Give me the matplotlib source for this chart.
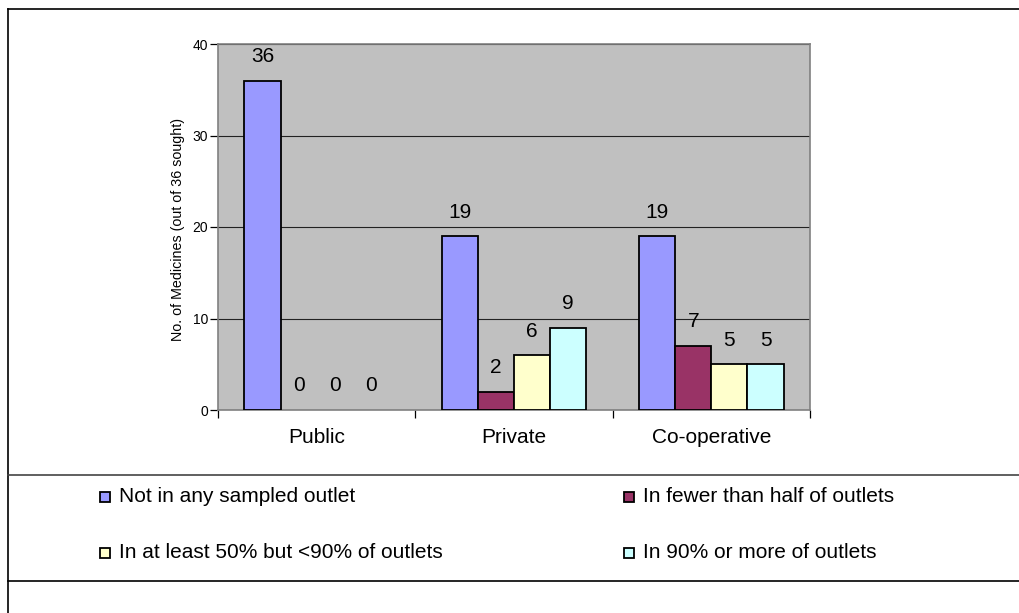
import matplotlib
matplotlib.use("Agg")
import matplotlib.pyplot as plt
from matplotlib.lines import Line2D
from matplotlib.patches import Rectangle
import numpy as np

plt.rcParams['font.family'] = ['Liberation Sans', 'DejaVu Sans']

categories = ["Public", "Private", "Co-operative"]
series_names = [
    "Not in any sampled outlet",
    "In fewer than half of outlets",
    "In at least 50% but <90% of outlets",
    "In 90% or more of outlets",
]
series_values = [
    [36, 19, 19],
    [0, 2, 7],
    [0, 6, 5],
    [0, 9, 5],
]
series_colors = ["#9999FF", "#993366", "#FFFFCC", "#CCFFFF"]
y_ticks = [0, 10, 20, 30, 40]
y_label = "No. of Medicines (out of 36 sought)"

W, H = 1020, 613
fig = plt.figure(figsize=(W / 100, H / 100), dpi=100)
fig.patch.set_facecolor("white")

def fx(px):
    return px / W

def fy(py):
    return 1 - py / H

ax = fig.add_axes([fx(218), fy(410), fx(810) - fx(218), fy(44) - fy(410)])
ax.set_facecolor("#C0C0C0")

x = np.arange(len(categories))
bar_w = 0.183
for i, (vals, col) in enumerate(zip(series_values, series_colors)):
    pos = x + (i - 1.5) * bar_w
    widths = [1.3 if v > 0 else 0 for v in vals]
    bars = ax.bar(pos, vals, width=bar_w, color=col, edgecolor="black",
                  linewidth=widths, zorder=3)
    for b, v in zip(bars, vals):
        ax.annotate(str(v), (b.get_x() + b.get_width() / 2, v),
                    xytext=(0, 17.3), textcoords="offset points",
                    ha="center", va="center", fontsize=15, color="black")

ax.set_xlim(-0.5, len(categories) - 0.5)
ax.set_ylim(0, 40)
ax.set_yticks(y_ticks)
ax.set_yticklabels([str(t) for t in y_ticks], fontsize=10)
ax.yaxis.grid(True, color="#222222", linewidth=0.8, zorder=1)
ax.set_axisbelow(True)

ax.set_xticks(np.arange(-0.5, len(categories), 1.0))
ax.set_xticklabels([])
ax.set_xticks(x, minor=True)
ax.set_xticklabels(categories, minor=True, fontsize=15)
ax.tick_params(axis="x", which="minor", length=0, pad=13)
ax.tick_params(axis="x", which="major", direction="out", length=6, width=0.9,
               color="black")
ax.tick_params(axis="y", direction="out", length=6, width=0.9, pad=1,
               color="black")

for side in ["left", "top", "right", "bottom"]:
    ax.spines[side].set_color("#808080")
    ax.spines[side].set_linewidth(1.2)

fig.text(fx(178), fy(229), y_label, rotation=90, ha="center", va="center",
         fontsize=10.3)

# Legend laid out in two columns below the chart
legend_slots = [(100, 497), (624, 497), (100, 553), (624, 553)]
for (lx, ly), name, col in zip(legend_slots, series_names, series_colors):
    fig.patches.append(Rectangle((fx(lx), fy(ly + 5)), fx(10), 10 / H,
                                 transform=fig.transFigure, facecolor=col,
                                 edgecolor="black", linewidth=1.3))
    fig.text(fx(lx + 19), fy(ly), name, ha="left", va="center",
             fontsize=15)

# Frame lines around the chart and legend areas
frame_lines = [
    ([8, W], [9, 9], "black"),
    ([8, 8], [9, H], "black"),
    ([8, W], [475, 475], "#444444"),
    ([8, W], [581, 581], "black"),
]
for xs, ys, c in frame_lines:
    fig.lines.append(Line2D([fx(v) for v in xs], [fy(v) for v in ys],
                            transform=fig.transFigure, color=c,
                            linewidth=1.2))

fig.savefig("out.png", dpi=100)
